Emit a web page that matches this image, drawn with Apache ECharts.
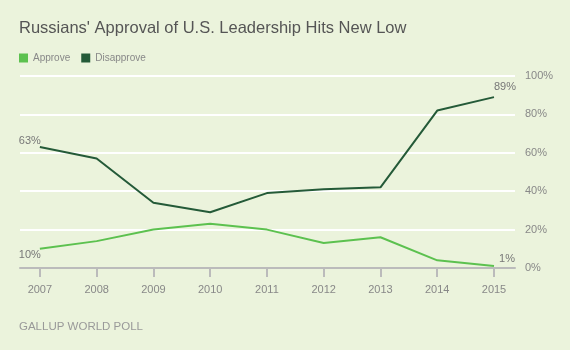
<!DOCTYPE html>
<html>
<head>
<meta charset="utf-8">
<script src="https://cdn.jsdelivr.net/npm/echarts@6/dist/echarts.min.js"></script>
<style>
  html, body { margin: 0; padding: 0; background: #ebf3dc; }
  #chart { width: 570px; height: 350px; }
</style>
</head>
<body>
<div id="chart"></div>
<script>
var years = [2007, 2008, 2009, 2010, 2011, 2012, 2013, 2014, 2015];
var approve = [10, 14, 20, 23, 20, 13, 16, 4, 1];
var disapprove = [63, 57, 34, 29, 39, 41, 42, 82, 89];

var font = 'Helvetica, Arial, "Liberation Sans", sans-serif';
var lightGreen = '#5cc14f';
var darkGreen = '#245a38';

// end-of-line value labels: [index, position, offset]
function withLabels(vals, marks) {
  var d = vals.map(function(v, i) { return [years[i], v]; });
  marks.forEach(function(m) {
    d[m[0]] = {
      value: d[m[0]],
      label: {
        show: true, position: m[1], offset: m[2],
        color: '#777', fontSize: 11, fontFamily: font,
        formatter: function(p) { return p.value[1] + '%'; }
      }
    };
  });
  return d;
}

var approveData = withLabels(approve, [[0, 'bottom', [-10, -4]], [8, 'top', [13, 3]]]);
var disapproveData = withLabels(disapprove, [[0, 'top', [-10, 4]], [8, 'top', [11, 0]]]);

var chart = echarts.init(document.getElementById('chart'), null, { renderer: 'canvas' });
chart.setOption({
  animation: false,
  backgroundColor: '#ebf3dc',
  title: {
    text: "Russians' Approval of U.S. Leadership Hits New Low",
    left: 14, top: 15,
    textStyle: { color: '#555', fontSize: 16.5, fontWeight: 'normal', fontFamily: font }
  },
  legend: {
    left: 14, top: 48,
    icon: 'rect', itemWidth: 9, itemHeight: 9, itemGap: 11,
    textStyle: { color: '#888', fontSize: 10, fontFamily: font },
    data: ['Approve', 'Disapprove']
  },
  grid: { left: 20, right: 55, top: 76, bottom: 82 },
  xAxis: {
    type: 'value',
    min: 2006.65, max: 2015.37,
    axisLine: { show: true, lineStyle: { color: '#bbb', width: 2 } },
    axisTick: { show: true, customValues: years, length: 9, lineStyle: { color: '#bbb', width: 2 } },
    axisLabel: {
      customValues: years, margin: 16, color: '#888', fontSize: 11, fontFamily: font,
      formatter: function(v) { return String(v); }
    },
    splitLine: { show: false }
  },
  yAxis: {
    type: 'value', position: 'right',
    min: 0, max: 100, interval: 20,
    axisLine: { show: false },
    axisTick: { show: false },
    axisLabel: { margin: 10, color: '#888', fontSize: 11, fontFamily: font, formatter: '{value}%' },
    splitLine: { lineStyle: { color: '#ffffff', width: 2 } }
  },
  graphic: [{
    type: 'text', left: 19, top: 321,
    style: { text: 'GALLUP WORLD POLL', fill: '#999', font: '11.5px ' + font, letterSpacing: 1.5 }
  }],
  series: [{
    name: 'Approve', type: 'line', data: approveData,
    color: lightGreen, symbol: 'circle', symbolSize: 0, showAllSymbol: true,
    lineStyle: { width: 2, color: lightGreen }
  }, {
    name: 'Disapprove', type: 'line', data: disapproveData,
    color: darkGreen, symbol: 'circle', symbolSize: 0, showAllSymbol: true,
    lineStyle: { width: 2, color: darkGreen }
  }]
});
</script>
</body>
</html>
